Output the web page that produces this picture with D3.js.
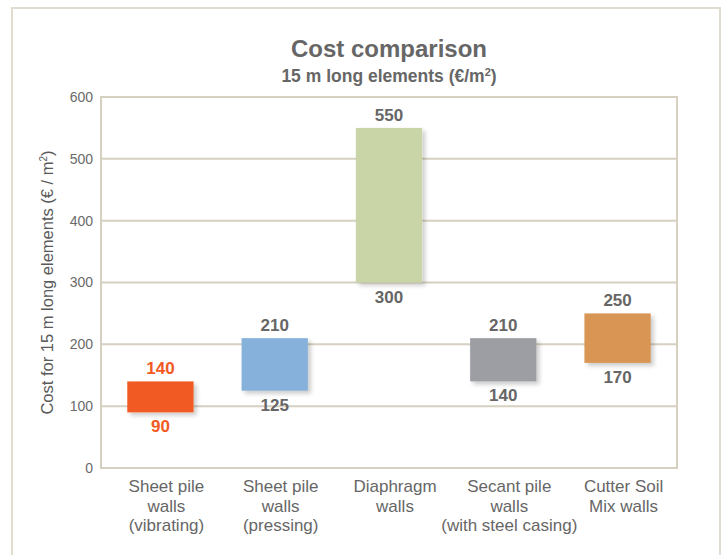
<!DOCTYPE html>
<html>
<head>
<meta charset="utf-8">
<script src="https://cdn.jsdelivr.net/npm/d3@7"></script>
<style>
  body { margin: 0; background: #fff; }
  svg { font-family: "Liberation Sans", Arial, sans-serif; }
</style>
</head>
<body>
<div id="chart"></div>
<script>
// Chart data
const categories = [
  ['Sheet pile', 'walls', '(vibrating)'],
  ['Sheet pile', 'walls', '(pressing)'],
  ['Diaphragm', 'walls'],
  ['Secant pile', 'walls', '(with steel casing)'],
  ['Cutter Soil', 'Mix walls']
];
const lowValues = [90, 125, 300, 140, 170];
const highValues = [140, 210, 550, 210, 250];
const yTicks = [0, 100, 200, 300, 400, 500, 600];

const barColors = ['#f15a22', '#86b1da', '#c9d5a6', '#9d9ea3', '#d99552'];
const labelColors = ['#f15a22', '#666666', '#666666', '#666666', '#666666'];

const width = 726, height = 555;
const plot = { left: 101, right: 677, top: 97, bottom: 468 };
const gridColor = '#d6d0c1';

const svg = d3.select('#chart').append('svg')
  .attr('width', width)
  .attr('height', height);

const defs = svg.append('defs');
const shadow = defs.append('filter')
  .attr('id', 'shadow')
  .attr('x', '-20%').attr('y', '-20%')
  .attr('width', '150%').attr('height', '150%');
shadow.append('feDropShadow')
  .attr('dx', 3).attr('dy', 3)
  .attr('stdDeviation', 2)
  .attr('flood-color', '#000')
  .attr('flood-opacity', 0.2);

// outer frame (open at the bottom edge of the picture)
svg.append('rect')
  .attr('x', 12).attr('y', 8)
  .attr('width', 708).attr('height', 560)
  .attr('fill', 'none')
  .attr('stroke', '#e0dccf')
  .attr('stroke-width', 2);

const x = d3.scaleBand()
  .domain(d3.range(categories.length))
  .range([plot.left, plot.right])
  .paddingInner(0.42)
  .paddingOuter(0.23);

const y = d3.scaleLinear()
  .domain([0, 600])
  .range([plot.bottom, plot.top]);

// gridlines
svg.append('g')
  .selectAll('line')
  .data(yTicks.slice(1, -1))
  .join('line')
  .attr('x1', plot.left).attr('x2', plot.right)
  .attr('y1', d => y(d)).attr('y2', d => y(d))
  .attr('stroke', gridColor)
  .attr('stroke-width', 2);

// plot frame
svg.append('rect')
  .attr('x', plot.left).attr('y', plot.top)
  .attr('width', plot.right - plot.left)
  .attr('height', plot.bottom - plot.top)
  .attr('fill', 'none')
  .attr('stroke', gridColor)
  .attr('stroke-width', 2);

// y axis
const yAxis = svg.append('g')
  .attr('transform', `translate(${plot.left},0)`)
  .call(d3.axisLeft(y).tickValues(yTicks).tickSize(0).tickPadding(8));
yAxis.select('.domain').remove();
yAxis.selectAll('text')
  .attr('fill', '#6a6a6a')
  .style('font-size', '14px');

svg.append('text')
  .attr('transform', `translate(53,${(plot.top + plot.bottom) / 2}) rotate(-90)`)
  .attr('text-anchor', 'middle')
  .attr('fill', '#5a5a5a')
  .style('font-size', '16.5px')
  .html('Cost for 15 m long elements (€ / m<tspan dy="-6" style="font-size:10px">2</tspan><tspan dy="6">)</tspan>');

// bars
const bars = svg.append('g');
bars.selectAll('rect')
  .data(d3.range(categories.length))
  .join('rect')
  .attr('x', i => x(i))
  .attr('y', i => y(highValues[i]))
  .attr('width', x.bandwidth())
  .attr('height', i => y(lowValues[i]) - y(highValues[i]))
  .attr('fill', i => barColors[i])
  .attr('filter', 'url(#shadow)');

// value labels
const labels = svg.append('g')
  .attr('text-anchor', 'middle')
  .style('font-size', '17px')
  .style('font-weight', 'bold');
labels.selectAll('.hi')
  .data(d3.range(categories.length))
  .join('text')
  .attr('class', 'hi')
  .attr('x', i => x(i) + x.bandwidth() / 2)
  .attr('y', i => y(highValues[i]) - 7)
  .attr('fill', i => labelColors[i])
  .text(i => highValues[i]);
labels.selectAll('.lo')
  .data(d3.range(categories.length))
  .join('text')
  .attr('class', 'lo')
  .attr('x', i => x(i) + x.bandwidth() / 2)
  .attr('y', i => y(lowValues[i]) + 20)
  .attr('fill', i => labelColors[i])
  .text(i => lowValues[i]);

// category labels (sit a little right of the bar centres, as in the source)
const catG = svg.append('g')
  .attr('text-anchor', 'middle')
  .attr('fill', '#666')
  .style('font-size', '17px');
categories.forEach((lines, i) => {
  const cxl = x(i) + x.bandwidth() / 2 + 6;
  const t = catG.append('text')
    .attr('x', cxl)
    .attr('y', 492);
  lines.forEach((line, j) => {
    t.append('tspan')
      .attr('x', cxl)
      .attr('dy', j === 0 ? 0 : 19.7)
      .text(line);
  });
});

// titles
const cx = (plot.left + plot.right) / 2;
svg.append('text')
  .attr('x', cx).attr('y', 57)
  .attr('text-anchor', 'middle')
  .attr('fill', '#666')
  .style('font-size', '24px')
  .style('font-weight', 'bold')
  .text('Cost comparison');
svg.append('text')
  .attr('x', cx).attr('y', 82)
  .attr('text-anchor', 'middle')
  .attr('fill', '#666')
  .style('font-size', '17.5px')
  .style('font-weight', 'bold')
  .html('15 m long elements (€/m<tspan dy="-6" style="font-size:11px">2</tspan><tspan dy="6">)</tspan>');
</script>
</body>
</html>
